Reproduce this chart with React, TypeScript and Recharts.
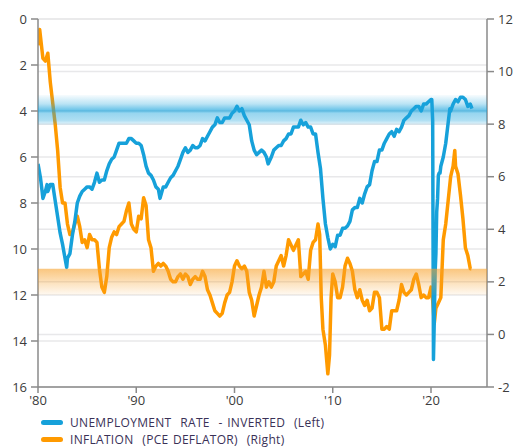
import React from 'react';
import { LineChart, Line, XAxis, YAxis, CartesianGrid, ReferenceArea } from 'recharts';

const unemploymentDates = [
  1980.0, 1980.25, 1980.42, 1980.5, 1980.75, 1980.92,
  1981.0, 1981.25, 1981.5, 1981.75,
  1982.0, 1982.25, 1982.5, 1982.75, 1982.92,
  1983.0, 1983.25, 1983.5, 1983.75,
  1984.0, 1984.25, 1984.5, 1984.75,
  1985.0, 1985.25, 1985.5, 1985.75,
  1986.0, 1986.25, 1986.5, 1986.75,
  1987.0, 1987.25, 1987.5, 1987.75,
  1988.0, 1988.25, 1988.5, 1988.75,
  1989.0, 1989.25, 1989.5, 1989.75,
  1990.0, 1990.25, 1990.5, 1990.75,
  1991.0, 1991.25, 1991.5, 1991.75,
  1992.0, 1992.25, 1992.42, 1992.75,
  1993.0, 1993.25, 1993.5, 1993.75,
  1994.0, 1994.25, 1994.5, 1994.75,
  1995.0, 1995.25, 1995.5, 1995.75,
  1996.0, 1996.25, 1996.5, 1996.75,
  1997.0, 1997.25, 1997.5, 1997.75,
  1998.0, 1998.25, 1998.5, 1998.75,
  1999.0, 1999.25, 1999.5, 1999.75,
  2000.0, 2000.25, 2000.5, 2000.75,
  2001.0, 2001.25, 2001.5, 2001.75,
  2002.0, 2002.25, 2002.5, 2002.75,
  2003.0, 2003.25, 2003.42, 2003.75,
  2004.0, 2004.25, 2004.5, 2004.75,
  2005.0, 2005.25, 2005.5, 2005.75,
  2006.0, 2006.25, 2006.5, 2006.75,
  2007.0, 2007.25, 2007.5, 2007.75,
  2008.0, 2008.25, 2008.5, 2008.75,
  2009.0, 2009.25, 2009.5, 2009.75,
  2010.0, 2010.25, 2010.5, 2010.75,
  2011.0, 2011.25, 2011.5, 2011.75,
  2012.0, 2012.25, 2012.5, 2012.75,
  2013.0, 2013.25, 2013.5, 2013.75,
  2014.0, 2014.25, 2014.5, 2014.75,
  2015.0, 2015.25, 2015.5, 2015.75,
  2016.0, 2016.25, 2016.5, 2016.75,
  2017.0, 2017.25, 2017.5, 2017.75,
  2018.0, 2018.25, 2018.5, 2018.75,
  2019.0, 2019.25, 2019.5, 2019.75,
  2020.0, 2020.08, 2020.17, 2020.25, 2020.33, 2020.42, 2020.5, 2020.58, 2020.67, 2020.75, 2020.83, 2020.92,
  2021.0, 2021.25, 2021.5, 2021.75, 2021.92,
  2022.0, 2022.25, 2022.5, 2022.75,
  2023.0, 2023.25, 2023.5, 2023.75,
  2024.0, 2024.17,
];
const unemploymentRates = [
  6.3, 6.9, 7.5, 7.8, 7.5, 7.2,
  7.5, 7.2, 7.2, 7.9,
  8.6, 9.3, 9.8, 10.4, 10.8,
  10.4, 10.2, 9.4, 8.8,
  8.0, 7.7, 7.5, 7.4,
  7.3, 7.3, 7.4, 7.1,
  6.7, 7.1, 7.0, 7.0,
  6.6, 6.3, 6.1, 6.0,
  5.7, 5.4, 5.4, 5.4,
  5.4, 5.2, 5.2, 5.3,
  5.4, 5.4, 5.5, 5.9,
  6.4, 6.7, 6.8, 7.0,
  7.3, 7.4, 7.8, 7.3,
  7.3, 7.1, 6.9, 6.8,
  6.6, 6.4, 6.1, 5.8,
  5.6, 5.8, 5.7, 5.5,
  5.6, 5.6, 5.5, 5.2,
  5.3, 5.1, 4.9, 4.7,
  4.6, 4.3, 4.5, 4.5,
  4.3, 4.3, 4.3, 4.1,
  4.0, 3.8, 4.0, 3.9,
  4.2, 4.4, 4.6, 5.3,
  5.7, 5.9, 5.8, 5.7,
  5.8, 6.0, 6.3, 6.0,
  5.7, 5.6, 5.5, 5.5,
  5.3, 5.2, 5.0, 5.0,
  4.7, 4.7, 4.7, 4.4,
  4.6, 4.5, 4.7, 4.7,
  5.0, 5.0, 5.8, 6.5,
  7.8, 8.9, 9.5, 10.0,
  9.8, 9.9, 9.4, 9.4,
  9.1, 9.1, 9.0, 8.8,
  8.3, 8.2, 8.2, 7.8,
  8.0, 7.6, 7.3, 7.2,
  6.6, 6.2, 6.2, 5.7,
  5.7, 5.4, 5.2, 5.0,
  4.9, 5.1, 4.8, 4.9,
  4.7, 4.4, 4.3, 4.2,
  4.0, 3.9, 3.8, 3.8,
  4.0, 3.7, 3.7, 3.6,
  3.5, 3.5, 4.4, 14.8, 13.2, 11.0, 10.2, 8.4, 7.8, 6.8, 6.7, 6.7,
  6.4, 6.0, 5.4, 4.5, 3.9,
  4.0, 3.7, 3.5, 3.6,
  3.4, 3.4, 3.5, 3.8,
  3.7, 3.9,
];

const inflationDates = [
  1980.0, 1980.17, 1980.5, 1980.75,
  1981.0, 1981.25, 1981.5, 1981.75,
  1982.0, 1982.25, 1982.5, 1982.75,
  1983.0, 1983.25, 1983.5, 1983.75,
  1984.0, 1984.25, 1984.5, 1984.75,
  1985.0, 1985.25, 1985.5, 1985.75,
  1986.0, 1986.25, 1986.5, 1986.75,
  1987.0, 1987.25, 1987.5, 1987.75,
  1988.0, 1988.25, 1988.5, 1988.75,
  1989.0, 1989.25, 1989.5, 1989.75,
  1990.0, 1990.25, 1990.5, 1990.75,
  1991.0, 1991.25, 1991.5, 1991.75,
  1992.0, 1992.25, 1992.5, 1992.75,
  1993.0, 1993.25, 1993.5, 1993.75,
  1994.0, 1994.25, 1994.5, 1994.75,
  1995.0, 1995.25, 1995.5, 1995.75,
  1996.0, 1996.25, 1996.5, 1996.75,
  1997.0, 1997.25, 1997.5, 1997.75,
  1998.0, 1998.25, 1998.5, 1998.75,
  1999.0, 1999.25, 1999.5, 1999.75,
  2000.0, 2000.25, 2000.5, 2000.75,
  2001.0, 2001.25, 2001.5, 2001.75,
  2002.0, 2002.25, 2002.5, 2002.75,
  2003.0, 2003.25, 2003.5, 2003.75,
  2004.0, 2004.25, 2004.5, 2004.75,
  2005.0, 2005.25, 2005.5, 2005.75,
  2006.0, 2006.25, 2006.5, 2006.75,
  2007.0, 2007.25, 2007.5, 2007.75,
  2008.0, 2008.25, 2008.5, 2008.67, 2008.83,
  2009.0, 2009.25, 2009.5, 2009.67, 2009.83,
  2010.0, 2010.25, 2010.5, 2010.75,
  2011.0, 2011.25, 2011.5, 2011.75,
  2012.0, 2012.25, 2012.5, 2012.75,
  2013.0, 2013.25, 2013.5, 2013.75,
  2014.0, 2014.25, 2014.5, 2014.75,
  2015.0, 2015.25, 2015.5, 2015.75,
  2016.0, 2016.25, 2016.5, 2016.75,
  2017.0, 2017.25, 2017.5, 2017.75,
  2018.0, 2018.25, 2018.5, 2018.75,
  2019.0, 2019.25, 2019.5, 2019.75,
  2020.0, 2020.17, 2020.33, 2020.5, 2020.75,
  2021.0, 2021.25, 2021.5, 2021.75,
  2022.0, 2022.25, 2022.42, 2022.5, 2022.75,
  2023.0, 2023.25, 2023.5, 2023.75,
  2024.0, 2024.1,
];
const inflationRates = [
  11.0, 11.6, 10.5, 10.4,
  10.7, 9.6, 8.8, 8.0,
  7.0, 5.6, 5.0, 5.0,
  4.2, 3.8, 3.9, 4.2,
  4.5, 4.1, 3.5, 3.6,
  3.3, 3.8, 3.6, 3.6,
  3.5, 2.5, 1.8, 1.6,
  2.2, 3.3, 3.7, 3.9,
  3.8, 4.1, 4.2, 4.3,
  4.7, 5.0, 4.2, 4.0,
  3.9, 4.5, 4.4, 5.2,
  4.9, 3.6, 3.3, 2.4,
  2.6, 2.7, 2.6, 2.7,
  2.6, 2.4, 2.1, 2.0,
  2.0, 2.2, 2.3, 2.1,
  2.3, 2.2, 1.9, 2.1,
  2.2, 2.1, 2.1, 2.4,
  2.2, 1.7, 1.5, 1.2,
  0.9, 0.8, 0.7, 0.8,
  1.2, 1.5, 1.6, 2.0,
  2.6, 2.8, 2.6, 2.5,
  2.6, 2.4, 1.6, 1.3,
  0.7, 1.1, 1.5, 1.8,
  2.4, 1.8, 2.0, 1.8,
  2.0, 2.6, 2.8, 3.0,
  2.6, 3.0, 3.6, 3.4,
  3.2, 3.4, 3.6, 2.2,
  2.3, 2.4, 2.1, 3.2,
  3.5, 3.6, 4.2, 3.8, 1.4,
  0.2, -0.4, -1.5, -0.8, 1.4,
  2.3, 2.0, 1.4, 1.4,
  1.8, 2.6, 2.9, 2.7,
  2.4, 1.7, 1.4, 1.7,
  1.3, 1.1, 1.3, 0.9,
  1.0, 1.6, 1.6, 1.4,
  0.2, 0.2, 0.3, 0.2,
  0.9, 0.9, 0.9, 1.3,
  1.9, 1.6, 1.5, 1.6,
  1.7, 2.1, 2.3, 1.9,
  1.4, 1.5, 1.4, 1.4,
  1.8, 1.3, 0.4, 1.0, 1.2,
  1.4, 3.6, 4.2, 5.1,
  6.0, 6.4, 7.0, 6.4, 6.1,
  5.3, 4.4, 3.3, 3.0,
  2.5, 2.5,
];

const xTicks = [1980, 1990, 2000, 2010, 2020];
const leftTicks = [0, 2, 4, 6, 8, 10, 12, 14, 16];
const rightTicks = [-2, 0, 2, 4, 6, 8, 10, 12];
const legendLabels = ['UNEMPLOYMENT  RATE  - INVERTED  (Left)', 'INFLATION  (PCE DEFLATOR)  (Right)'];
const blueBand = [3.3, 4.6];
const orangeBand = [1.5, 2.5];

const unemploymentData = unemploymentDates.map((t, i) => ({ t, u: unemploymentRates[i] }));
const inflationData = inflationDates.map((t, i) => ({ t, p: inflationRates[i] }));

const BLUE = '#16a1da';
const ORANGE = '#ff9a00';
const AXIS = '#8a8a8a';
const FONT = '"Open Sans", "Noto Sans", sans-serif';
const tickStyle = { fill: '#3c3c3c', fontSize: 13, fontFamily: FONT };
const MARGIN = { top: 19, right: 0, bottom: 30, left: 0 };
const X_DOMAIN: [number, number] = [1980, 2025.7];

export default function App() {
  return (
    <div style={{ position: 'absolute', left: 0, top: 0, width: 517, height: 447, background: '#fff' }}>
      <div style={{ position: 'absolute', left: 0, top: 0 }}>
        <LineChart width={517} height={447} margin={MARGIN}>
          <CartesianGrid yAxisId="left" vertical={false} stroke="#e8e8ea" strokeWidth={1.5} />
          <CartesianGrid yAxisId="right" vertical={false} stroke="#e8e8ea" strokeWidth={1.5} />
          <XAxis
            dataKey="t"
            type="number"
            domain={X_DOMAIN}
            ticks={xTicks}
            allowDataOverflow
            tickFormatter={(v: number) => "'" + String(v).slice(2)}
            tick={tickStyle}
            tickSize={6}
            tickMargin={3}
            height={30}
            stroke={AXIS}
            strokeWidth={1.5}
          />
          <YAxis
            yAxisId="left"
            orientation="left"
            reversed
            domain={[0, 16]}
            ticks={leftTicks}
            allowDataOverflow
            width={38}
            tick={tickStyle}
            tickSize={7}
            tickMargin={4}
            stroke={AXIS}
            strokeWidth={1.5}
          />
          <YAxis
            yAxisId="right"
            orientation="right"
            domain={[-2, 12]}
            ticks={rightTicks}
            allowDataOverflow
            width={30}
            tick={tickStyle}
            tickSize={7}
            tickMargin={4}
            stroke={AXIS}
            strokeWidth={1.5}
          />
          <Line
            yAxisId="right"
            data={inflationData}
            dataKey="p"
            stroke={ORANGE}
            strokeWidth={3.5}
            dot={false}
            strokeLinejoin="round"
            isAnimationActive={false}
          />
          <Line
            yAxisId="left"
            data={unemploymentData}
            dataKey="u"
            stroke={BLUE}
            strokeWidth={3.5}
            dot={false}
            strokeLinejoin="round"
            isAnimationActive={false}
          />
        </LineChart>
      </div>
      <div style={{ position: 'absolute', left: 0, top: 0, pointerEvents: 'none' }}>
        <LineChart width={517} height={447} margin={MARGIN}>
          <defs>
            <linearGradient id="blueBandGrad" x1="0" y1="0" x2="0" y2="1">
              <stop offset="0" stopColor="#1aa3dc" stopOpacity={0.03} />
              <stop offset="0.3" stopColor="#1aa3dc" stopOpacity={0.3} />
              <stop offset="0.53" stopColor="#1aa3dc" stopOpacity={0.68} />
              <stop offset="0.62" stopColor="#1aa3dc" stopOpacity={0.45} />
              <stop offset="0.85" stopColor="#1aa3dc" stopOpacity={0.35} />
              <stop offset="1" stopColor="#1aa3dc" stopOpacity={0.08} />
            </linearGradient>
            <linearGradient id="orangeBandGrad" x1="0" y1="0" x2="0" y2="1">
              <stop offset="0" stopColor="#f7a028" stopOpacity={0.6} />
              <stop offset="0.5" stopColor="#f7a028" stopOpacity={0.32} />
              <stop offset="1" stopColor="#f7a028" stopOpacity={0.06} />
            </linearGradient>
          </defs>
          <XAxis dataKey="t" type="number" domain={X_DOMAIN} allowDataOverflow height={30} tick={false} tickLine={false} axisLine={false} />
          <YAxis yAxisId="left" orientation="left" reversed domain={[0, 16]} allowDataOverflow width={38} tick={false} tickLine={false} axisLine={false} />
          <YAxis yAxisId="right" orientation="right" domain={[-2, 12]} allowDataOverflow width={30} tick={false} tickLine={false} axisLine={false} />
          <ReferenceArea
            yAxisId="left"
            y1={blueBand[0]}
            y2={blueBand[1]}
            fill="url(#blueBandGrad)"
            fillOpacity={1}
            stroke="none"
          />
          <ReferenceArea
            yAxisId="right"
            y1={orangeBand[1]}
            y2={orangeBand[0]}
            fill="url(#orangeBandGrad)"
            fillOpacity={1}
            stroke="none"
          />
        </LineChart>
      </div>
      <div style={{ position: 'absolute', left: 41, top: 414, fontFamily: FONT, fontSize: 12, letterSpacing: 0.3, wordSpacing: 1, color: '#3a3157', lineHeight: '17px' }}>
        {legendLabels.map((label, i) => (
          <div key={label} style={{ display: 'flex', alignItems: 'center', height: 17 }}>
            <span style={{ display: 'inline-block', width: 22, height: 5, borderRadius: 3, background: i === 0 ? BLUE : ORANGE, marginRight: 7 }} />
            <span style={{ whiteSpace: 'pre' }}>{label}</span>
          </div>
        ))}
      </div>
    </div>
  );
}
